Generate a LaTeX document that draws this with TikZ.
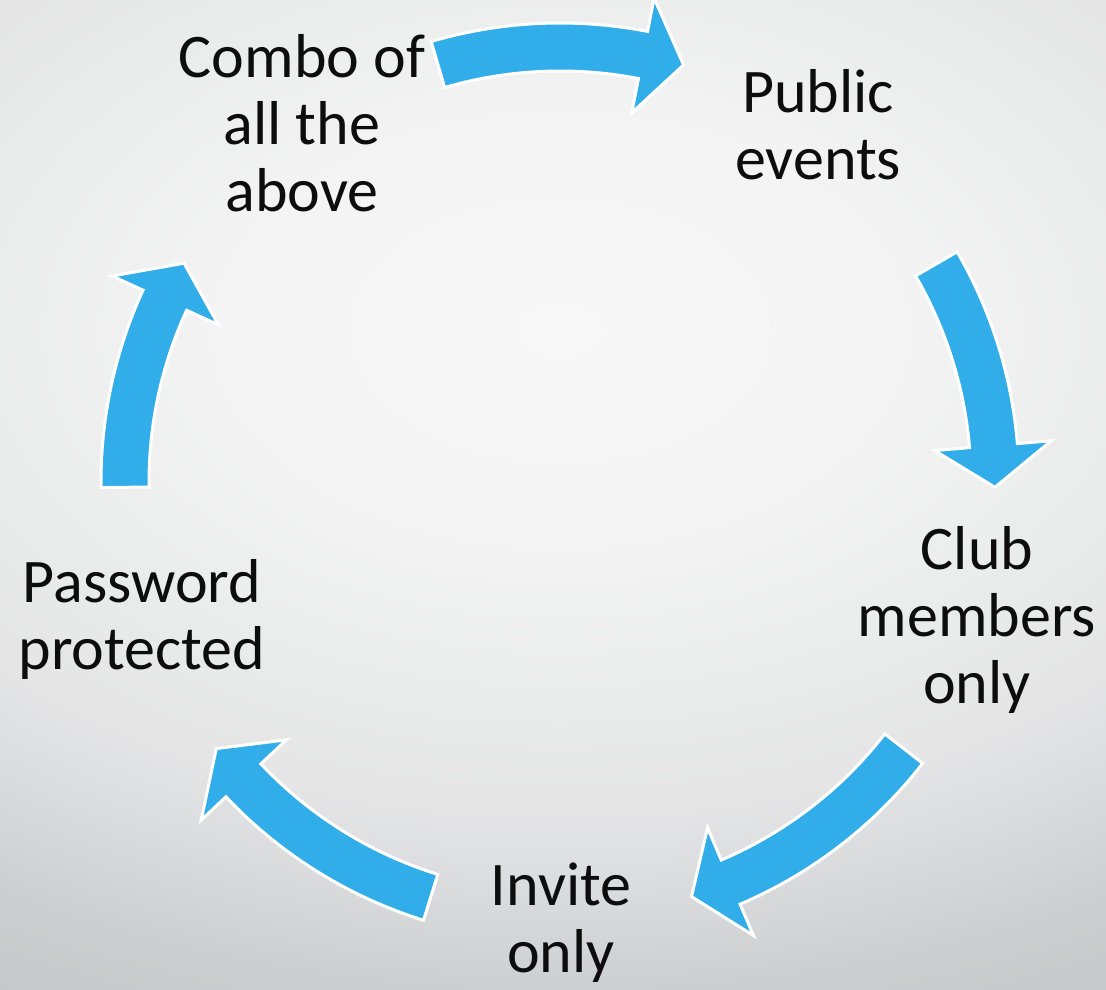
\documentclass[tikz,border=0pt]{standalone}
\usepackage{fontspec}
\setmainfont{Carlito}
\definecolor{arrowblue}{RGB}{49,173,234}
\definecolor{bgA}{HTML}{F8F8F8}
\definecolor{bgB}{HTML}{F4F4F4}
\definecolor{bgC}{HTML}{E9EAEA}
\definecolor{bgD}{HTML}{E5E5E6}
\definecolor{bgE}{HTML}{DCDDDF}
\definecolor{bgF}{HTML}{CBCECF}
\definecolor{bgG}{HTML}{C6C9CB}
\pgfdeclareradialshading{bgshade}{\pgfpoint{0bp}{0bp}}{color(0bp)=(bgA); color(6.5bp)=(bgB); color(12bp)=(bgC); color(15bp)=(bgD); color(17bp)=(bgE); color(20.65bp)=(bgF); color(23.25bp)=(bgG); color(50bp)=(bgG)}
\tikzset{
  lbl/.style={inner sep=0pt, anchor=base, text=black!95,
    font=\fontsize{62}{67}\selectfont},
  cyclearrow/.style={fill=arrowblue, draw=white, line width=3pt, line join=miter},
}
% #1 name, #2 tail angle, #3 tip angle (clockwise)
\newcommand\cycarrow[3]{%
  \path[cyclearrow] (#2:459) arc[start angle=#2, end angle=#3+5.5, radius=459]
    -- (#3+5.5:493) -- (#3:435) -- (#3+5.5:376) -- (#3+5.5:411)
    arc[start angle=#3+5.5, end angle=#2, radius=411] -- cycle;}
\begin{document}
\begin{tikzpicture}[x=1pt,y=1pt]
\useasboundingbox (0,0) rectangle (1106,989);
\begin{scope}
  \clip (0,0) rectangle (1106,989);
  \fill[bgG] (0,0) rectangle (1106,989);
  \shade[shading=bgshade] (560,659) ellipse [x radius=1288, y radius=805];
\end{scope}
\begin{scope}[shift={(560,507)}]
  \cycarrow{top}{106.3}{73.5}
  \cycarrow{right}{30.1}{-0.7}
  \cycarrow{lowright}{-37.8}{-72.4}
  \cycarrow{lowleft}{-107.3}{-142.2}
  \cycarrow{left}{180.7}{149.8}
\end{scope}
\node[lbl] (public) at (818,876) {\begin{tabular}[t]{@{}c@{}}Public\\events\end{tabular}};
\node[lbl] (club) at (977,419) {\begin{tabular}[t]{@{}c@{}}Club\\members\\only\end{tabular}};
\node[lbl] (invite) at (561,84) {\begin{tabular}[t]{@{}c@{}}Invite\\only\end{tabular}};
\node[lbl] (password) at (142,386) {\begin{tabular}[t]{@{}c@{}}Password\\protected\end{tabular}};
\node[lbl] (combo) at (302,911) {\begin{tabular}[t]{@{}c@{}}Combo of\\all the\\above\end{tabular}};
\end{tikzpicture}
\end{document}
